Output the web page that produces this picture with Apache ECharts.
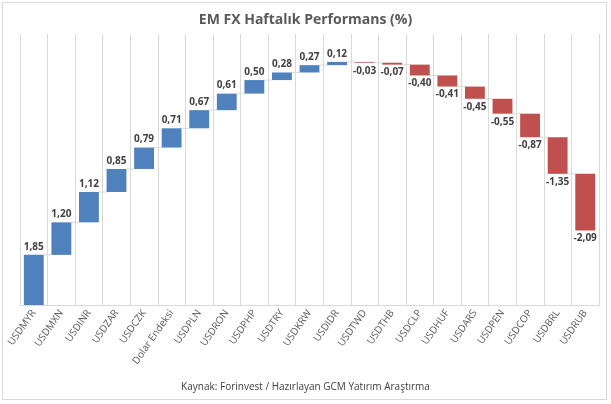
<!DOCTYPE html>
<html><head><meta charset="utf-8">
<script src="https://cdn.jsdelivr.net/npm/echarts@6/dist/echarts.min.js"></script>
<style>html,body{margin:0;padding:0;background:#fff}#c{width:611px;height:404px}</style>
</head><body><div id="c"></div>
<script>
const categories = ['USDMYR','USDMXN','USDINR','USDZAR','USDCZK','Dolar Endeksi','USDPLN','USDRON','USDPHP','USDTRY','USDKRW','USDIDR','USDTWD','USDTHB','USDCLP','USDHUF','USDARS','USDPEN','USDCOP','USDBRL','USDRUB'];
const values = [1.85,1.20,1.12,0.85,0.79,0.71,0.67,0.61,0.50,0.28,0.27,0.12,-0.03,-0.07,-0.40,-0.41,-0.45,-0.55,-0.87,-1.35,-2.09];

const base = [], pos = [], neg = [], level = [];
let cum = 0;
values.forEach(v => {
  const next = cum + v;
  base.push(Math.min(cum, next));
  pos.push(v >= 0 ? v : '-');
  neg.push(v < 0 ? -v : '-');
  level.push(next);
  cum = next;
});
const fmt = v => v.toFixed(2).replace('.', ',');
const FONT = 'Open Sans';

const chart = echarts.init(document.getElementById('c'));
chart.setOption({
  animation: false,
  textStyle: {fontFamily: FONT},
  title: {text: 'EM FX Haftalık Performans (%)', left: 'center', top: 8,
    textStyle: {fontSize: 14, fontWeight: 'bold', color: '#595959', fontFamily: FONT}},
  graphic: [
    {type: 'rect', shape: {x: 2.5, y: 2.5, width: 604, height: 397}, style: {fill: 'none', stroke: '#d9d9d9', lineWidth: 1}, silent: true},
    {type: 'text', left: 'center', top: 382, style: {text: 'Kaynak: Forinvest / Hazırlayan GCM Yatırım Araştırma', fill: '#404040', font: '10px "Open Sans"'}}
  ],
  grid: {left: 20, right: 12, top: 34, bottom: 99},
  xAxis: {type: 'category', data: categories,
    axisLine: {lineStyle: {color: '#d9d9d9'}}, axisTick: {show: false},
    splitLine: {show: true, lineStyle: {color: '#d9d9d9'}},
    axisLabel: {rotate: 55, color: '#595959', fontSize: 10, interval: 0, margin: 6, fontFamily: FONT}},
  yAxis: {type: 'value', min: 0, max: 10, show: false, splitLine: {show: false}},
  series: [
    {type: 'bar', stack: 'w', data: base, itemStyle: {color: 'transparent'}, barCategoryGap: '28%', silent: true},
    {type: 'bar', stack: 'w', data: pos, itemStyle: {color: '#4F81BD'},
      label: {show: true, position: 'top', distance: 3, formatter: p => fmt(p.value), color: '#404040', fontSize: 10, fontWeight: 'bold', fontFamily: FONT}},
    {type: 'bar', stack: 'w', data: neg, itemStyle: {color: '#C0504D'},
      label: {show: true, position: 'bottom', distance: 3, formatter: p => fmt(-p.value), color: '#404040', fontSize: 10, fontWeight: 'bold', fontFamily: FONT}},
    {type: 'custom', data: level.slice(0, -1).map((l, i) => [i, l]), silent: true, z: 1,
      renderItem: (params, api) => {
        const i = api.value(0), l = api.value(1);
        const a = api.coord([i, l]), b = api.coord([i + 1, l]);
        const hw = api.size([1, 0])[0] * 0.36;
        return {type: 'line', shape: {x1: a[0] + hw, y1: a[1], x2: b[0] - hw, y2: b[1]},
          style: {stroke: '#d9d9d9', lineWidth: 1}};
      }}
  ]
});
</script></body></html>
